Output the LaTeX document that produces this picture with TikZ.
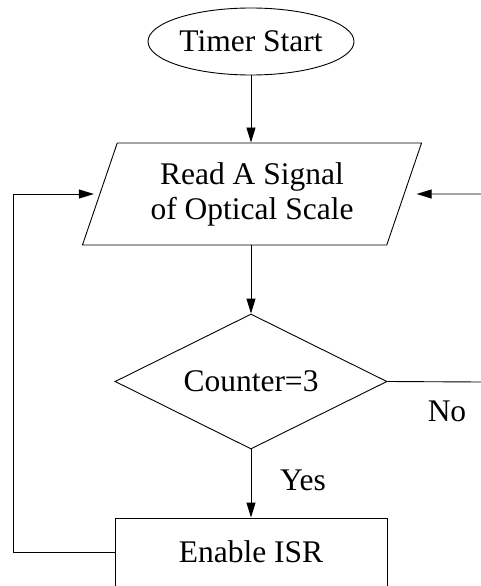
\documentclass[tikz,border=0pt]{standalone}
\usepackage{fontspec}
\setmainfont{Liberation Serif}
\usetikzlibrary{shapes.geometric,arrows.meta}
\tikzset{
  flow/.style={draw=black, line width=0.9pt, inner sep=0pt,
               font=\fontsize{31.5}{35}\selectfont, align=center},
  terminal/.style={flow, ellipse, minimum width=206pt, minimum height=67pt},
  iobox/.style={flow, trapezium, trapezium left angle=67.6, trapezium right angle=112.4,
                trapezium stretches=true, minimum width=340pt, minimum height=102pt},
  decision/.style={flow, diamond, aspect=2, minimum width=272pt, minimum height=135pt},
  process/.style={flow, rectangle, minimum width=272pt, minimum height=68pt},
  link/.style={line width=0.9pt, draw=black},
  arrow/.style={link, -{Triangle[length=15pt,width=9pt]}},
  lbl/.style={font=\fontsize{31.5}{35}\selectfont, inner sep=0pt}
}
\begin{document}
\begin{tikzpicture}[x=1pt, y=-1pt]
  \useasboundingbox (0,0) rectangle (481,586);

  % main chain
  \node[terminal] (start) at (251,41.5) {Timer Start};
  \node[iobox]    (read)  at (252,194)  {Read A Signal\\of Optical Scale};
  \node[decision] (cnt)   at (251,381.5) {Counter=3};
  \node[process]  (isr)   at (251,552)  {Enable ISR};

  % free ends on the borders
  \coordinate (rin)  at (481,194);
  \coordinate (nout) at (481,382);
  \coordinate (loop) at (13,552);

  \draw[arrow] (start.south) -- (read.north -| start.south);
  \draw[arrow] (read.south -| cnt.north) -- (cnt.north);
  \draw[arrow] (cnt.south) -- (isr.north);

  % branch to the right
  \draw[link] (cnt.east) -- (nout);
  \node[lbl] at (447,411) {No};
  \node[lbl] at (303,480) {Yes};

  % incoming from the right
  \draw[arrow] (rin) -- ([xshift=12pt]read.east);

  % loop back from the ISR box
  \draw[arrow] (isr.west) -- (loop) |- ([xshift=-5.5pt]read.west);
\end{tikzpicture}
\end{document}
